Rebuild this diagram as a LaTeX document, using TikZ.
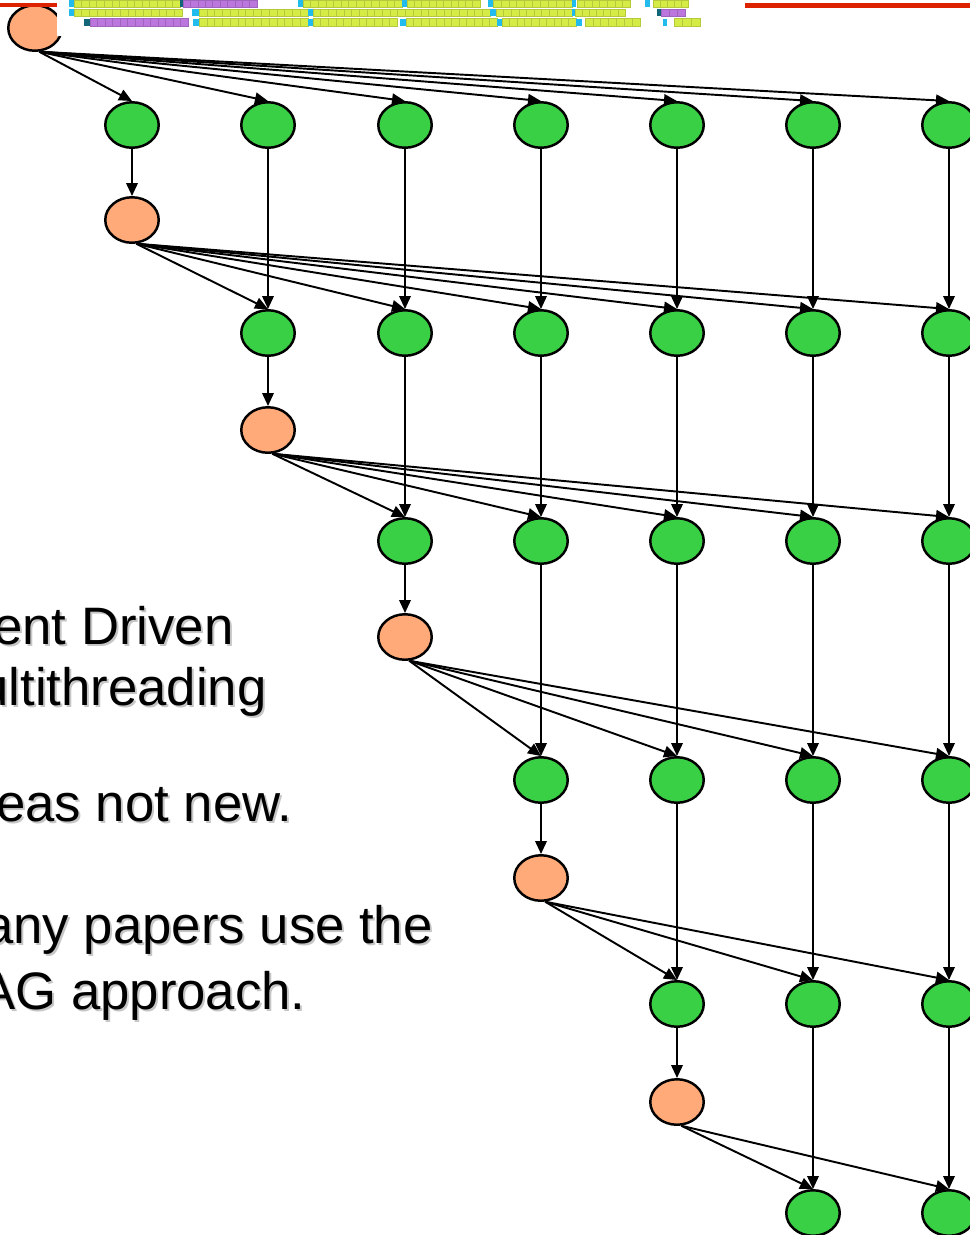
\documentclass[tikz,border=0pt]{standalone}
\usepackage{fontspec}
\setmainfont{Liberation Sans}
\usetikzlibrary{arrows.meta,shapes.geometric}
\definecolor{taskgreen}{RGB}{58,208,70}
\definecolor{syncorange}{RGB}{255,170,120}
\definecolor{slidered}{RGB}{221,34,0}
\definecolor{cellyellow}{RGB}{214,236,70}
\definecolor{cellcyan}{RGB}{34,187,238}
\definecolor{cellteal}{RGB}{17,102,119}
\definecolor{cellpurple}{RGB}{187,119,221}
\begin{document}
\begin{tikzpicture}[x=0.02cm,y=-0.02cm,
  task/.style={ellipse,draw,line width=1.4pt,fill=taskgreen,
    minimum width=1.07cm,minimum height=0.91cm,inner sep=0pt},
  sync/.style={task,fill=syncorange},
  dep/.style={line width=1.1pt,-{Triangle[length=0.26cm,width=0.23cm]}},
  slide/.style={font=\fontsize{30}{36}\selectfont,anchor=base west,inner sep=0pt}]
  \useasboundingbox (0,0) rectangle (970,1235);
  % Text on the slide, with its shadow
  \foreach \t/\x/\y [count=\i] in {ent Driven/-7/644, ultithreading/-21/705,
      eas not new./-4/821, any papers use the/-16/943, AG approach./-20/1009} {
    \node[slide,text=gray!45] (shade-\i) at (\x+2,\y+2) {\t};
    \node[slide] (line-\i) at (\x,\y) {\t};
  }
  % Worker tasks: row r holds columns r..7
  \foreach \r/\y in {1/125,2/333,3/541,4/780,5/1004,6/1213}
    \foreach \c/\x in {1/132,2/268,3/405,4/541,5/677,6/813,7/949} {
      \ifnum\c<\r\else \node[task] (g-\r-\c) at (\x,\y) {}; \fi
    }
  % Synchronisation tasks
  \node[sync] (o-0) at (35,28) {};
  \foreach \r/\x/\y in {1/132/220,2/268/430,3/405/637,4/541/878,5/677/1102}
    \node[sync] (o-\r) at (\x,\y) {};
  % Fan-out from each sync task
  \foreach \r in {1,...,6} {
    \pgfmathtruncatemacro\p{\r-1}
    \foreach \c in {\r,...,7}
      \draw[dep] (o-\p.280) -- (g-\r-\c.north);
  }
  % Down each column
  \foreach \r in {1,...,5} {
    \pgfmathtruncatemacro\n{\r+1}
    \draw[dep] (g-\r-\r) -- (o-\r);
    \foreach \c in {\n,...,7}
      \draw[dep] (g-\r-\c) -- (g-\n-\c);
  }
  % Schedule strip over the top edge
  \fill[white] (57,0) rectangle (745,36);
  \fill[slidered] (0,3) rectangle (57,7);
  \fill[slidered] (745,3) rectangle (970,8);
  \foreach \a/\b/\n/\y/\col in {
      74/180/14/0/cellyellow, 183/257/10/0/cellpurple, 303/402/13/0/cellyellow,
      407/480/10/0/cellyellow, 493/572/10/0/cellyellow, 577/630/7/0/cellyellow,
      653/688/5/0/cellyellow,
      74/182/14/9/cellyellow, 199/308/14/9/cellyellow, 313/490/23/9/cellyellow,
      496/572/10/9/cellyellow, 575/625/7/9/cellyellow, 661/685/3/9/cellpurple,
      90/188/13/18.6/cellpurple, 199/308/14/18.6/cellyellow, 313/397/11/18.6/cellyellow,
      406/497/12/18.6/cellyellow, 502/576/10/18.6/cellyellow, 585/640/7/18.6/cellyellow,
      674/700/3/18.6/cellyellow}
    \foreach \k in {1,...,\n}
      \filldraw[fill=\col,draw=\col!85!black,line width=0.25pt]
        ({\a+(\k-1)*(\b-\a)/\n},{\y}) rectangle ({\a+\k*(\b-\a)/\n},{\y+7.4});
  % Event markers
  \foreach \a/\w/\y/\col in {
      69/5/0/cellcyan, 180/3/0/cellteal, 298/5/0/cellcyan, 402/5/0/cellcyan,
      488/5/0/cellcyan, 572/4/0/cellcyan, 645/5/0/cellcyan,
      69/5/9/cellcyan, 192/7/9/cellcyan, 308/5/9/cellcyan, 490/6/9/cellcyan,
      572/3/9/cellcyan, 657/4/9/cellteal,
      84/6/18.6/cellteal, 193/6/18.6/cellcyan, 308/5/18.6/cellcyan, 400/6/18.6/cellcyan,
      497/5/18.6/cellcyan, 576/6/18.6/cellcyan, 663/4/18.6/cellcyan}
    \fill[\col] (\a,\y) rectangle ++(\w,7.4);
\end{tikzpicture}
\end{document}
